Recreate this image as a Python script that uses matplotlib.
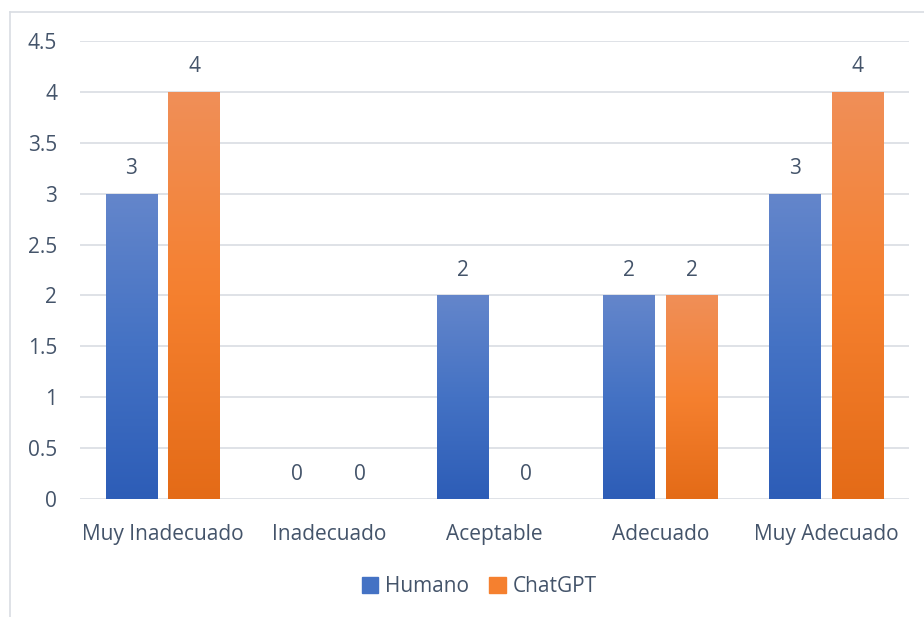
import numpy as np
import matplotlib.pyplot as plt
from matplotlib.colors import LinearSegmentedColormap
from matplotlib.lines import Line2D
from matplotlib.patches import Rectangle

categorias = ['Muy Inadecuado', 'Inadecuado', 'Aceptable', 'Adecuado', 'Muy Adecuado']
humano = [3, 0, 2, 2, 3]
chatgpt = [4, 0, 0, 2, 4]
series = ['Humano', 'ChatGPT']

plt.rcParams['font.family'] = ['Open Sans', 'DejaVu Sans']
texto = '#44546A'
fs = 15

# degradados de arriba (claro) a abajo (oscuro)
azul = LinearSegmentedColormap.from_list('azul', ['#2D5DB7', '#4472C4', '#6486CB'])
naranja = LinearSegmentedColormap.from_list('naranja', ['#E46B17', '#F5802F', '#F08F58'])

fig = plt.figure(figsize=(9.24, 6.17), dpi=100)
ax = fig.add_axes([80 / 924, 1 - 499 / 617, (909 - 80) / 924, (499 - 41) / 617])

x = np.arange(len(categorias))
ancho = 0.313
sep = 0.066
grad = np.linspace(0, 1, 256).reshape(-1, 1)

for valores, cmap, desp, nombre in [(humano, azul, -(ancho + sep) / 2, series[0]),
                                     (chatgpt, naranja, (ancho + sep) / 2, series[1])]:
    barras = ax.bar(x + desp, valores, ancho, color='none', label=nombre)
    for b, v in zip(barras, valores):
        if v > 0:
            x0 = b.get_x()
            im = ax.imshow(grad, cmap=cmap, origin='lower', aspect='auto',
                           extent=[x0, x0 + ancho, 0, v], zorder=2)
            im.set_clip_path(Rectangle((x0, 0), ancho, v, transform=ax.transData))
        ax.text(b.get_x() + ancho / 2, v + 0.245, str(v), ha='center', va='center',
                fontsize=fs, color=texto)

ax.set_xlim(-0.5, len(categorias) - 0.5)
ax.set_ylim(0, 4.5)
ax.set_yticks(np.arange(0, 4.51, 0.5))
ax.set_yticklabels(['0', '0.5', '1', '1.5', '2', '2.5', '3', '3.5', '4', '4.5'])
ax.set_xticks(x)
ax.set_xticklabels(categorias)
ax.tick_params(length=0, labelsize=fs, labelcolor=texto)
ax.tick_params(axis='y', pad=16.5)
ax.tick_params(axis='x', pad=18)
ax.grid(axis='y', color='#D9DDE3', linewidth=1.2)
ax.set_axisbelow(True)
for s in ax.spines.values():
    s.set_visible(False)

# marco del gráfico
fig.add_artist(Line2D([10 / 924, 1], [1 - 12 / 617, 1 - 12 / 617], color='#D9DDE3', lw=1.2))
fig.add_artist(Line2D([10 / 924, 10 / 924], [0, 1 - 12 / 617], color='#D9DDE3', lw=1.2))

h = [Rectangle((0, 0), 1, 1, color='#4472C4'), Rectangle((0, 0), 1, 1, color='#F5802F')]
fig.legend(h, series, loc='center', bbox_to_anchor=(479 / 924, 1 - 587 / 617), ncol=2,
           frameon=False, fontsize=fs, labelcolor=texto, handlelength=0.8, handleheight=0.8,
           handletextpad=0.3, columnspacing=1.0)

fig.savefig('out.png', dpi=100)
